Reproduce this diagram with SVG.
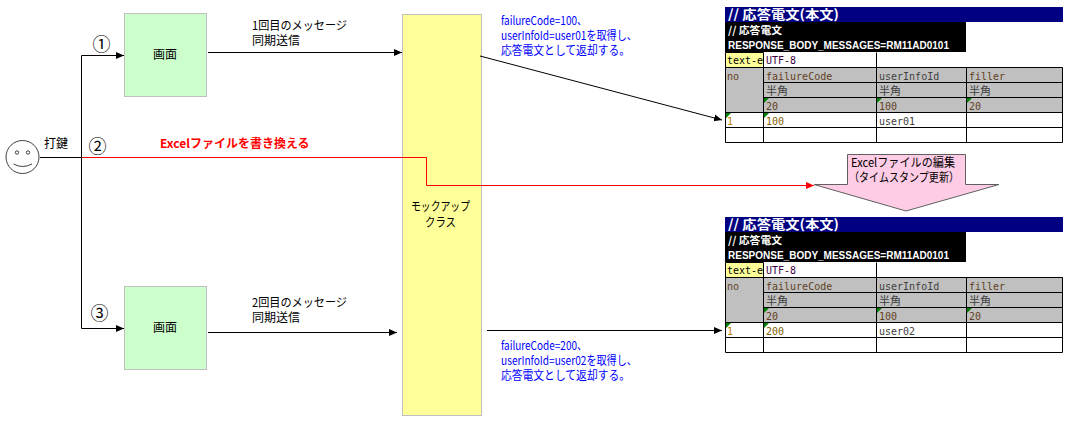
<svg xmlns="http://www.w3.org/2000/svg" width="1074" height="428" viewBox="0 0 1074 428">
<style>
text{font-family:"Noto Sans CJK JP","Liberation Sans",sans-serif;font-size:12px;fill:#000}
.blue{fill:#0000ff}
.mono{font-family:"DejaVu Sans Mono","Noto Sans CJK JP",monospace;font-size:10px;fill:#404040}
.tt{font-family:"Noto Sans CJK JP",sans-serif;font-size:13px;font-weight:700;fill:#fff}
.ts{font-family:"Noto Sans CJK JP",sans-serif;font-size:10.5px;font-weight:700;fill:#fff}
.tb{font-family:"Liberation Sans",sans-serif;font-size:10.5px;font-weight:700;fill:#fff}
.box{stroke:#c0c0c0;stroke-width:1}
.c{fill:none;stroke:#000;stroke-width:1}
.r{fill:none;stroke:#f00;stroke-width:1}
.g{fill:#c0c0c0}
.k{fill:none;stroke:#000;stroke-width:1}
.tri{fill:#008000}
.n{font-size:18px}
</style>
<defs>
<marker id="a" markerUnits="userSpaceOnUse" markerWidth="9" markerHeight="8" refX="8" refY="4" orient="auto"><path d="M0 0.5L8 4L0 7.5Z" fill="#000"/></marker>
<marker id="ar" markerUnits="userSpaceOnUse" markerWidth="9" markerHeight="8" refX="8" refY="4" orient="auto"><path d="M0 0.5L8 4L0 7.5Z" fill="#f00"/></marker>
<g id="sheet">
<rect x="725" y="7" width="338" height="15" fill="#000080"/>
<rect x="725" y="22" width="241" height="30" fill="#000"/>
<rect x="725.5" y="52.5" width="38" height="15" fill="#ffff99"/>
<rect x="725" y="67" width="338" height="45" class="g"/>
<path class="k" d="M725.5 52.500H763.500M725.500 67.500H1062.500M763.500 82.500H1062.500M763.500 97.500H1062.500M725.500 112.500H1062.500M725.500 127.500H1062.500M725.500 142.500H1062.500M725.500 52.500V142.500M763.500 52.500V142.500M876.500 52.500V142.500M966.500 67.500V142.500M1062.500 67.500V142.500"/>
<path class="tri" d="M764 98h5l-5 5zM877 98h5l-5 5zM967 98h5l-5 5zM726 113h5l-5 5zM764 113h5l-5 5z"/>
<text x="728" y="19" class="tt" textLength="111" lengthAdjust="spacingAndGlyphs">//  応答電文(本文)</text>
<text x="728" y="34" class="ts" textLength="54" lengthAdjust="spacingAndGlyphs">// 応答電文</text>
<text x="728" y="49" class="tb" textLength="221" lengthAdjust="spacingAndGlyphs">RESPONSE_BODY_MESSAGES=RM11AD0101</text>
<text x="727" y="64" class="mono" style="fill:#000">text-e</text>
<text x="766" y="64" class="mono" style="fill:#400040">UTF-8</text>
<text x="727" y="80" class="mono" style="fill:#604020">no</text>
<text x="766" y="80" class="mono" style="fill:#604020">failureCode</text>
<text x="879" y="80" class="mono" style="fill:#404040">userInfoId</text>
<text x="969" y="80" class="mono" style="fill:#604020">filler</text>
<text x="766" y="95" class="mono" style="font-size:11px">半角</text>
<text x="879" y="95" class="mono" style="font-size:11px">半角</text>
<text x="969" y="95" class="mono" style="font-size:11px">半角</text>
<text x="766" y="110" class="mono" style="fill:#604020">20</text>
<text x="879" y="110" class="mono" style="fill:#604020">100</text>
<text x="969" y="110" class="mono" style="fill:#604020">20</text>
</g>
</defs>

<g id="mock">
<rect class="box" x="402.500" y="14.500" width="79" height="401" fill="#ffff99"/>
<text x="411" y="211" textLength="59" lengthAdjust="spacingAndGlyphs">モックアップ</text>
<text x="425" y="227" textLength="31" lengthAdjust="spacingAndGlyphs">クラス</text>
</g>

<g id="connectors">
<path class="c" d="M40 157.500H81.500"/>
<path class="c" d="M81.500 157.500V55.500H124" marker-end="url(#a)"/>
<path class="c" d="M81.500 157.500V328.500H124" marker-end="url(#a)"/>
<path class="c" d="M208 52.500H402" marker-end="url(#a)"/>
<path class="c" d="M208 332.500H397" marker-end="url(#a)"/>
<path class="c" d="M480 56L722 120" marker-end="url(#a)"/>
<path class="c" d="M487 330.500H722" marker-end="url(#a)"/>
<path class="r" d="M82 157.500H426.500V185.500H814" marker-end="url(#ar)"/>
</g>

<g id="actor">
<circle cx="22.500" cy="157" r="16.500" fill="#fff" stroke="#404040" stroke-width="1"/>
<circle cx="17" cy="152.500" r="1.700" fill="#fff" stroke="#404040"/>
<circle cx="28" cy="152.500" r="1.700" fill="#fff" stroke="#404040"/>
<path d="M13.500 164Q22.500 169 32 164" fill="none" stroke="#404040"/>
<text x="44" y="148">打鍵</text>
</g>

<g id="step1"><text x="101.500" y="51" text-anchor="middle" class="n">①</text></g>
<g id="step2"><text x="97.500" y="153" text-anchor="middle" class="n">②</text></g>
<g id="step3"><text x="99.500" y="320" text-anchor="middle" class="n">③</text></g>

<g id="screen1">
<rect class="box" x="124.500" y="13.500" width="82" height="83" fill="#ccffcc"/>
<text x="165" y="59" text-anchor="middle">画面</text>
</g>
<g id="screen2">
<rect class="box" x="124.500" y="286.500" width="82" height="83" fill="#ccffcc"/>
<text x="165" y="332" text-anchor="middle">画面</text>
</g>
<g id="label1"><text x="252" y="30" textLength="95" lengthAdjust="spacingAndGlyphs">1回目のメッセージ</text><text x="252" y="45">同期送信</text></g>
<g id="label2"><text x="252" y="307" textLength="95" lengthAdjust="spacingAndGlyphs">2回目のメッセージ</text><text x="252" y="322">同期送信</text></g>
<g id="label-red"><text x="160" y="148" style="fill:#f00;font-weight:700">Excelファイルを書き換える</text></g>

<g id="note1">
<text x="501" y="25" class="blue" textLength="86" lengthAdjust="spacingAndGlyphs">failureCode=100、</text>
<text x="501" y="40" class="blue" textLength="136" lengthAdjust="spacingAndGlyphs">userInfoId=user01を取得し、</text>
<text x="501" y="55" class="blue" textLength="129" lengthAdjust="spacingAndGlyphs">応答電文として返却する。</text>
</g>
<g id="note2">
<text x="501" y="350" class="blue" textLength="86" lengthAdjust="spacingAndGlyphs">failureCode=200、</text>
<text x="501" y="365" class="blue" textLength="136" lengthAdjust="spacingAndGlyphs">userInfoId=user02を取得し、</text>
<text x="501" y="380" class="blue" textLength="129" lengthAdjust="spacingAndGlyphs">応答電文として返却する。</text>
</g>

<g id="table1">
<use href="#sheet"/>
<text x="727" y="125" class="mono" style="fill:#c08000">1</text>
<text x="766" y="125" class="mono" style="fill:#806000">100</text>
<text x="879" y="125" class="mono">user01</text>
</g>
<g id="table2">
<use href="#sheet" y="210"/>
<text x="727" y="335" class="mono" style="fill:#c08000">1</text>
<text x="766" y="335" class="mono" style="fill:#806000">200</text>
<text x="879" y="335" class="mono">user02</text>
</g>

<g id="callout">
<path d="M847.500 154.500H965.500V184.500H999L906 211L814 184.500H847.500Z" fill="#ffcce6" stroke="#606060"/>
<text x="851" y="167" textLength="104" lengthAdjust="spacingAndGlyphs">Excelファイルの編集</text>
<text x="849" y="182" textLength="110" lengthAdjust="spacingAndGlyphs">（タイムスタンプ更新）</text>
</g>
</svg>
